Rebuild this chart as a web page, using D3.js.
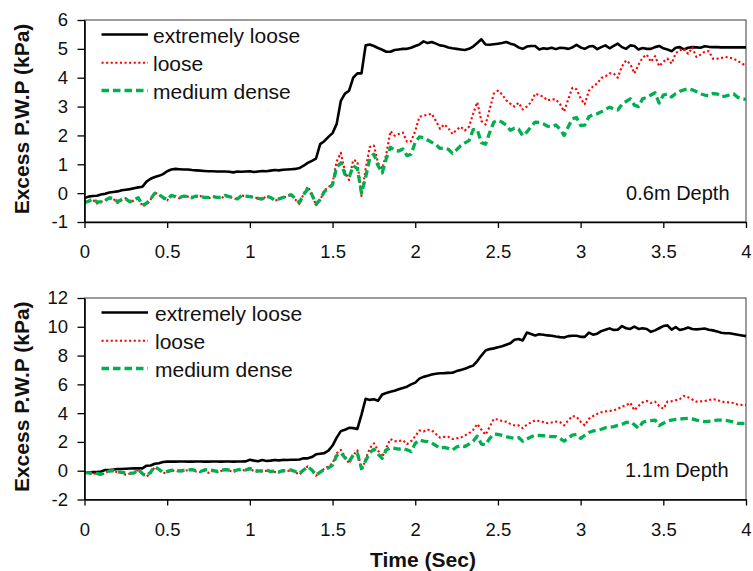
<!DOCTYPE html>
<html><head><meta charset="utf-8">
<script src="https://cdn.jsdelivr.net/npm/d3@7"></script>
<style>body{margin:0;background:#fff}svg{display:block}</style>
</head><body><svg id="c" width="753" height="571"></svg>
<script>
// sampling interval of the records (s)
const timeStep = 0.025;
const seriesNames = ["extremely loose", "loose", "medium dense"];
const xTicks = [0, 0.5, 1, 1.5, 2, 2.5, 3, 3.5, 4];
const yTicksTop = [-1, 0, 1, 2, 3, 4, 5, 6];
const yTicksBottom = [-2, 0, 2, 4, 6, 8, 10, 12];
const depthLabels = ["0.6m Depth", "1.1m Depth"];

// 0.6 m depth
const top_extremelyLoose = [
-0.17,-0.12,-0.10,-0.09,-0.05,-0.02,0.02,0.04,0.06,0.10,
0.12,0.14,0.17,0.20,0.22,0.40,0.50,0.56,0.60,0.66,
0.76,0.82,0.84,0.83,0.82,0.82,0.80,0.79,0.78,0.77,
0.76,0.76,0.75,0.75,0.75,0.74,0.72,0.75,0.74,0.75,
0.76,0.73,0.75,0.77,0.76,0.78,0.80,0.79,0.81,0.82,
0.83,0.84,0.87,0.95,1.05,1.12,1.20,1.70,1.80,1.95,
2.08,2.40,3.20,3.45,3.55,4.00,4.15,4.15,5.12,5.15,
5.10,5.03,4.97,4.90,4.90,4.96,4.98,5.00,5.00,5.04,
5.10,5.15,5.26,5.20,5.24,5.18,5.12,5.10,5.05,5.02,
5.00,4.98,4.96,5.00,5.08,5.20,5.33,5.15,5.14,5.16,
5.18,5.20,5.24,5.18,5.14,5.05,5.00,5.08,5.10,5.10,
4.98,5.02,5.00,5.04,4.99,5.04,5.03,5.00,5.05,5.14,
5.05,5.00,5.08,5.10,4.99,5.06,5.12,5.02,5.10,5.18,
5.06,5.00,5.12,5.10,4.98,5.03,5.00,5.00,5.06,5.10,
5.02,4.98,4.92,5.04,5.06,4.98,5.04,5.06,5.05,5.04,
5.09,5.07,5.06,5.06,5.05,5.05,5.05,5.05,5.05,5.05,
5.05];
const top_loose = [
-0.30,-0.25,-0.22,-0.36,-0.30,-0.24,-0.18,-0.20,-0.34,-0.24,
-0.18,-0.32,-0.25,-0.15,-0.45,-0.40,-0.22,0.02,-0.05,-0.18,
-0.25,-0.10,-0.10,-0.18,-0.10,-0.12,-0.18,-0.12,-0.10,-0.16,
-0.18,-0.12,-0.14,-0.18,-0.10,-0.12,-0.18,-0.22,-0.08,-0.12,
-0.14,-0.12,-0.20,-0.22,-0.10,-0.16,-0.26,-0.22,-0.15,-0.12,
-0.05,-0.22,-0.38,-0.02,0.22,-0.02,-0.42,-0.25,0.10,0.20,
0.35,1.10,1.40,0.75,0.45,1.15,1.10,-0.10,0.85,1.60,
1.65,1.05,0.85,1.35,2.15,1.99,2.05,2.10,1.78,1.80,
2.15,2.65,2.68,2.72,2.75,2.50,2.23,2.38,2.25,2.05,
2.20,2.30,2.17,2.30,2.75,3.15,2.50,2.38,2.90,3.45,
3.55,3.42,3.22,3.10,3.00,3.13,2.90,3.00,3.15,3.45,
3.40,3.34,3.21,3.25,3.25,3.09,2.83,3.25,3.65,3.60,
3.28,3.08,3.55,3.70,3.80,3.99,4.05,4.15,4.15,4.00,
4.40,4.60,4.48,4.15,4.45,4.70,4.80,4.55,4.75,4.40,
4.55,4.66,4.49,4.85,4.95,5.01,4.83,5.05,4.72,4.80,
4.90,4.92,4.66,4.66,4.68,4.72,4.70,4.66,4.58,4.50,
4.40];
const top_mediumDense = [
-0.33,-0.28,-0.20,-0.30,-0.30,-0.26,-0.16,-0.18,-0.30,-0.22,
-0.20,-0.30,-0.22,-0.16,-0.42,-0.35,-0.20,0.00,-0.05,-0.15,
-0.22,-0.08,-0.12,-0.15,-0.10,-0.12,-0.15,-0.10,-0.12,-0.15,
-0.15,-0.12,-0.15,-0.15,-0.08,-0.12,-0.15,-0.20,-0.08,-0.10,
-0.12,-0.15,-0.18,-0.20,-0.10,-0.15,-0.24,-0.20,-0.15,-0.10,
-0.05,-0.20,-0.32,-0.05,0.14,-0.05,-0.38,-0.22,0.05,0.17,
0.30,0.90,1.05,0.65,0.55,0.95,0.85,0.00,0.55,1.20,
1.35,0.95,0.70,1.20,1.59,1.48,1.46,1.53,1.30,1.35,
1.76,1.95,1.92,1.84,1.76,1.68,1.55,1.57,1.52,1.38,
1.50,1.65,1.74,1.82,2.20,2.20,1.75,1.70,2.10,2.46,
2.52,2.46,2.35,2.18,2.25,2.22,1.99,2.12,2.30,2.46,
2.45,2.40,2.32,2.30,2.36,2.22,2.00,2.30,2.58,2.62,
2.34,2.36,2.65,2.72,2.75,2.82,2.90,2.98,2.92,2.88,
3.08,3.18,3.27,3.05,3.00,3.27,3.32,3.40,3.48,3.12,
3.40,3.44,3.33,3.45,3.53,3.58,3.62,3.58,3.52,3.44,
3.40,3.38,3.45,3.44,3.34,3.36,3.40,3.44,3.32,3.27,
3.25];

// 1.1 m depth
const bottom_extremelyLoose = [
-0.12,-0.12,-0.10,-0.10,-0.05,0.05,0.05,0.08,0.12,0.12,
0.14,0.15,0.16,0.16,0.16,0.35,0.36,0.48,0.52,0.60,
0.63,0.63,0.63,0.64,0.64,0.63,0.63,0.64,0.64,0.63,
0.63,0.64,0.64,0.63,0.64,0.64,0.63,0.64,0.64,0.65,
0.76,0.70,0.66,0.74,0.68,0.70,0.75,0.72,0.75,0.74,
0.76,0.76,0.78,0.86,0.86,0.95,1.14,1.18,1.22,1.40,
1.75,2.30,2.75,2.85,2.98,2.96,2.90,3.90,5.00,4.92,
4.97,4.86,5.30,5.40,5.48,5.55,5.66,5.75,5.84,6.00,
6.12,6.40,6.52,6.60,6.68,6.74,6.77,6.78,6.80,6.81,
6.92,7.00,7.08,7.20,7.30,7.62,8.00,8.35,8.45,8.50,
8.58,8.65,8.75,8.85,9.10,9.15,9.05,9.60,9.50,9.40,
9.48,9.45,9.40,9.38,9.32,9.28,9.25,9.35,9.38,9.38,
9.30,9.30,9.60,9.45,9.52,9.70,9.80,9.89,9.78,9.80,
10.05,9.90,9.85,10.01,9.85,9.90,9.85,9.65,9.75,9.90,
10.05,10.10,9.80,9.98,9.78,9.85,9.95,9.85,9.82,9.85,
9.88,9.80,9.75,9.68,9.58,9.55,9.55,9.50,9.45,9.40,
9.35];
const bottom_loose = [
-0.15,-0.18,-0.20,-0.20,-0.32,-0.12,-0.05,-0.02,-0.10,-0.15,
-0.28,-0.20,-0.18,0.08,-0.25,-0.42,-0.15,0.25,0.08,-0.18,
-0.10,-0.02,0.02,-0.08,-0.02,0.04,0.05,-0.05,-0.10,0.02,
-0.15,-0.02,-0.10,-0.02,0.05,0.00,-0.08,0.02,0.06,0.00,
0.10,-0.02,-0.08,-0.05,0.00,-0.10,-0.08,-0.12,-0.05,-0.02,
0.02,-0.10,-0.28,0.05,0.30,0.02,-0.35,-0.12,0.15,0.30,
0.50,1.21,1.45,1.00,0.50,1.05,1.42,0.00,0.80,1.56,
1.90,1.40,0.95,1.60,2.20,2.05,2.06,2.12,1.85,2.05,
2.40,2.80,2.72,2.85,2.80,2.55,2.30,2.35,2.35,2.20,
2.25,2.30,2.45,2.60,2.83,3.25,2.85,2.50,3.05,3.60,
3.55,3.45,3.40,3.25,3.15,3.15,2.95,3.20,3.35,3.50,
3.45,3.38,3.30,3.35,3.41,3.38,3.15,3.50,3.80,3.75,
3.40,3.15,3.60,3.80,3.95,4.06,4.12,4.15,4.20,4.30,
4.45,4.55,4.72,4.20,4.50,4.75,4.84,4.70,4.80,4.50,
4.30,4.80,4.82,4.90,4.98,5.20,5.10,4.95,4.80,4.82,
4.84,4.90,4.98,4.92,4.80,4.76,4.75,4.70,4.60,4.57,
4.57];
const bottom_mediumDense = [
-0.12,-0.15,-0.18,-0.18,-0.25,-0.10,-0.02,0.00,-0.08,-0.12,
-0.15,-0.18,-0.15,0.10,-0.20,-0.35,-0.10,0.28,0.10,-0.10,
-0.05,0.02,0.05,-0.02,0.02,0.06,0.08,0.00,-0.05,0.05,
0.08,0.02,-0.05,0.02,0.08,0.05,-0.02,0.05,0.10,0.05,
0.16,0.02,-0.02,0.00,0.05,-0.05,-0.02,-0.08,0.00,0.02,
0.05,-0.05,-0.18,0.05,0.28,0.05,-0.30,-0.10,0.10,0.20,
0.39,1.05,1.25,0.90,0.63,1.10,1.20,0.15,0.70,1.25,
1.50,1.15,0.86,1.45,1.60,1.55,1.50,1.56,1.45,1.33,
1.90,2.13,2.05,2.02,1.92,1.75,1.56,1.62,1.55,1.44,
1.65,1.74,1.68,1.85,2.05,2.40,1.85,1.80,2.25,2.55,
2.53,2.45,2.37,2.30,2.26,2.30,2.05,2.20,2.35,2.46,
2.45,2.43,2.40,2.37,2.37,2.25,2.06,2.25,2.48,2.53,
2.25,2.45,2.65,2.76,2.80,2.88,2.99,3.02,3.06,3.15,
3.22,3.35,3.40,3.20,2.94,3.36,3.45,3.48,3.52,3.13,
3.30,3.45,3.52,3.56,3.59,3.62,3.64,3.60,3.52,3.45,
3.41,3.43,3.45,3.52,3.52,3.50,3.45,3.38,3.29,3.29,
3.29];

const FONT = "'Liberation Sans', Arial, sans-serif";
const styles = [
  {stroke: "#000000", width: 2.6, dash: null},
  {stroke: "#FF0000", width: 2.1, dash: "2.1,2.5"},
  {stroke: "#00B050", width: 3.3, dash: "7.5,4"}
];

const panels = [
  {top: 20, bottom: 222, domain: [-1, 6], ticks: yTicksTop,
   series: [top_extremelyLoose, top_loose, top_mediumDense],
   label: depthLabels[0], labelX: 729.5, labelY: 200, legendX: 153},
  {top: 298, bottom: 499.5, domain: [-2, 12], ticks: yTicksBottom,
   series: [bottom_extremelyLoose, bottom_loose, bottom_mediumDense],
   label: depthLabels[1], labelX: 728.5, labelY: 477.3, legendX: 155}
];

const svg = d3.select("#c");
const x = d3.scaleLinear().domain([0, 4]).range([84.5, 746]);
const plainFormat = d => String(d);

panels.forEach(p => {
  const y = d3.scaleLinear().domain(p.domain).range([p.bottom, p.top]);
  const g = svg.append("g");

  // frame
  g.append("rect").attr("x", x(0)).attr("y", p.top)
    .attr("width", x(4) - x(0)).attr("height", p.bottom - p.top)
    .attr("fill", "none").attr("stroke", "#3a3a3a").attr("stroke-width", 1);

  // series
  const line = d3.line().x((d, i) => x(i * timeStep)).y(d => y(d));
  p.series.forEach((vals, k) => {
    const s = styles[k];
    g.append("path").datum(vals).attr("d", line)
      .attr("fill", "none").attr("stroke", s.stroke)
      .attr("stroke-width", s.width)
      .attr("stroke-linejoin", "round")
      .attr("stroke-dasharray", s.dash);
  });

  // axes
  const ya = g.append("g").attr("transform", `translate(${x(0)},0)`)
    .call(d3.axisLeft(y).tickValues(p.ticks).tickFormat(plainFormat).tickSize(7).tickSizeOuter(0).tickPadding(9.5));
  const xa = g.append("g").attr("transform", `translate(0,${p.bottom})`)
    .call(d3.axisBottom(x).tickValues(xTicks).tickFormat(plainFormat).tickSize(6).tickSizeOuter(0).tickPadding(17));
  [ya, xa].forEach(a => {
    a.select(".domain").attr("stroke", "#000").attr("stroke-width", 1.6);
    a.selectAll(".tick line").attr("stroke", "#000").attr("stroke-width", 1.3);
    a.selectAll(".tick text").attr("fill", "#111").style("font-family", FONT).style("font-size", "18.5px");
  });

  // y title
  svg.append("text")
    .attr("transform", `translate(28.5,${(p.top + p.bottom) / 2 - 2}) rotate(-90)`)
    .attr("text-anchor", "middle")
    .style("font-family", FONT).style("font-size", "21px").style("font-weight", "bold")
    .attr("fill", "#111")
    .text("Excess P.W.P (kPa)");

  // depth label
  svg.append("text").attr("x", p.labelX).attr("y", p.labelY)
    .attr("text-anchor", "end")
    .style("font-family", FONT).style("font-size", "20px").attr("fill", "#111")
    .text(p.label);

  // legend
  const rows = [14.5, 42.7, 70.5];
  seriesNames.forEach((name, k) => {
    const s = styles[k];
    const ly = p.top + rows[k];
    svg.append("line").attr("x1", 101.5).attr("x2", 148).attr("y1", ly).attr("y2", ly)
      .attr("stroke", s.stroke).attr("stroke-width", s.width).attr("stroke-dasharray", s.dash);
    svg.append("text").attr("x", p.legendX).attr("y", ly + 8)
      .style("font-family", FONT).style("font-size", "21px").attr("fill", "#111")
      .text(name);
  });
});

// x title
svg.append("text").attr("x", 423).attr("y", 567)
  .attr("text-anchor", "middle")
  .style("font-family", FONT).style("font-size", "21px").style("font-weight", "bold")
  .attr("fill", "#111")
  .text("Time (Sec)");
</script>
</body></html>
